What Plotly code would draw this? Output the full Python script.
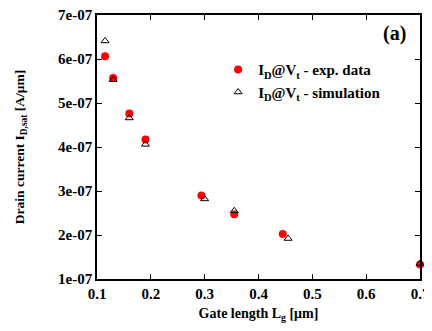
import plotly.graph_objects as go

# Data
lg_exp = [0.115, 0.130, 0.160, 0.190, 0.294, 0.355, 0.445, 0.700]
id_exp = [6.06e-07, 5.57e-07, 4.76e-07, 4.17e-07, 2.90e-07, 2.47e-07, 2.02e-07, 1.33e-07]
lg_sim = [0.115, 0.130, 0.160, 0.190, 0.300, 0.355, 0.455, 0.700]
id_sim = [6.41e-07, 5.53e-07, 4.66e-07, 4.06e-07, 2.82e-07, 2.55e-07, 1.92e-07, 1.35e-07]

y_tickvals = [1e-07, 2e-07, 3e-07, 4e-07, 5e-07, 6e-07, 7e-07]
y_ticktext = ["1e-07", "2e-07", "3e-07", "4e-07", "5e-07", "6e-07", "7e-07"]
x_tickvals = [0.1, 0.2, 0.3, 0.4, 0.5, 0.6, 0.7]
x_ticktext = ["0.1", "0.2", "0.3", "0.4", "0.5", "0.6", "0.7"]

FONT = "'Liberation Serif', 'Times New Roman', Times, serif"

fig = go.Figure()
fig.add_trace(go.Scatter(
    x=lg_exp, y=id_exp, mode="markers", cliponaxis=False,
    name="<b>I<sub>D</sub>@V<sub>t</sub> - exp. data</b>",
    marker=dict(symbol="circle", size=8, color="#ff0000", line=dict(width=0)),
))
fig.add_trace(go.Scatter(
    x=lg_sim, y=id_sim, mode="markers", cliponaxis=False,
    name="<b>I<sub>D</sub>@V<sub>t</sub> - simulation</b>",
    marker=dict(symbol="triangle-up-open", size=7, color="black", line=dict(width=1, color="black")),
))

axis_common = dict(
    showline=True, linecolor="black", linewidth=1.5, mirror="ticks", automargin=False,
    ticks="inside", ticklen=5, tickcolor="black", showgrid=False, zeroline=False,
    ticklabeloverflow="allow",
    tickfont=dict(family=FONT, size=15, color="black", weight="bold"),
)

fig.update_layout(
    width=424, height=315,
    margin=dict(l=89, r=12, t=7, b=44),
    paper_bgcolor="white", plot_bgcolor="white",
    font=dict(family=FONT, color="black"),
    xaxis=dict(range=[0.1, 0.7], tickvals=x_tickvals, ticktext=x_ticktext,
               title=dict(text="<b>Gate length L<sub>g</sub> [μm]</b>",
                          font=dict(family=FONT, size=14, color="black"), standoff=12),
               **axis_common),
    yaxis=dict(range=[1e-07, 7e-07], tickvals=y_tickvals, ticktext=y_ticktext,
               title=dict(text="<b>Drain current I<sub>D,sat</sub> [A/μm]</b>",
                          font=dict(family=FONT, size=13.5, color="black"), standoff=30),
               **axis_common),
    legend=dict(x=0.375, y=0.855, xanchor="left", yanchor="top",
                bgcolor="rgba(0,0,0,0)", font=dict(family=FONT, size=15, color="black"),
                itemwidth=30, tracegroupgap=0),
    showlegend=True,
)
fig.add_annotation(x=0.963, y=0.931, xref="paper", yref="paper", xanchor="right", yanchor="middle",
                   text="<b>(a)</b>", showarrow=False,
                   font=dict(family=FONT, size=20, color="black"))

fig.write_html("out.html")
